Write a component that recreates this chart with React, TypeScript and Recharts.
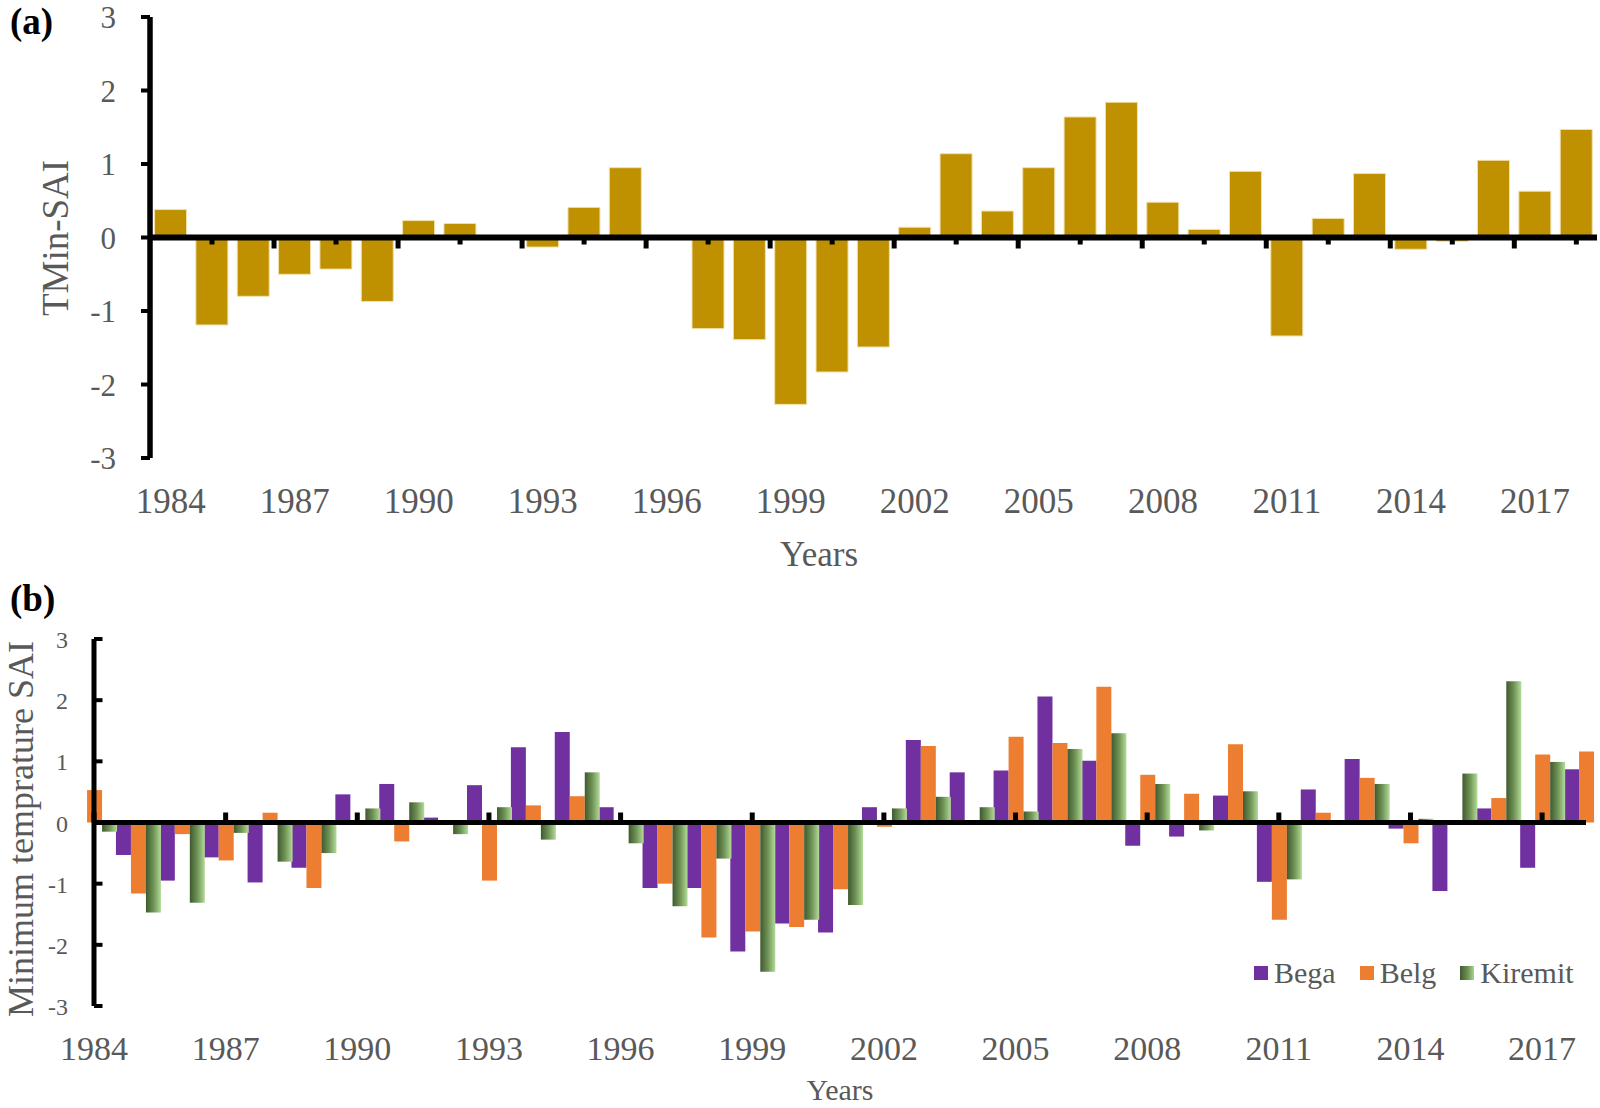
import React from "react";
import { Bar, BarChart, Legend, ReferenceLine, XAxis, YAxis } from "recharts";

const years = [
  "1984", "1985", "1986", "1987", "1988", "1989", "1990", "1991", "1992",
  "1993", "1994", "1995", "1996", "1997", "1998", "1999", "2000", "2001",
  "2002", "2003", "2004", "2005", "2006", "2007", "2008", "2009", "2010",
  "2011", "2012", "2013", "2014", "2015", "2016", "2017", "2018",
];
const yearTicks = [
  "1984", "1987", "1990", "1993", "1996", "1999",
  "2002", "2005", "2008", "2011", "2014", "2017",
];
const yTicks = [-3, -2, -1, 0, 1, 2, 3];

// (a) annual TMin-SAI
const tminSai = [
  0.38, -1.19, -0.8, -0.5, -0.43, -0.87, 0.23, 0.19, 0, -0.13, 0.41, 0.95,
  0, -1.24, -1.39, -2.27, -1.83, -1.49, 0.14, 1.14, 0.36, 0.95, 1.64, 1.84,
  0.48, 0.11, 0.9, -1.34, 0.26, 0.87, -0.16, -0.05, 1.05, 0.63, 1.47,
];

// (b) seasonal SAI
const bega = [
  null, -0.53, -0.95, -0.57, -0.98, -0.74, 0.46, 0.63, 0.08, 0.61, 1.23, 1.48,
  0.25, -1.07, -1.07, -2.11, -1.65, -1.8, 0.25, 1.35, 0.82, 0.85, 2.06, 1.01,
  -0.38, -0.23, 0.44, -0.97, 0.54, 1.04, -0.1, -1.12, 0.23, -0.74, 0.87,
];
const belg = [
  0.53, -1.16, -0.19, -0.62, 0.16, -1.07, 0, -0.31, 0, -0.95, 0.28, 0.43,
  0, -1.0, -1.88, -1.78, -1.71, -1.09, -0.07, 1.25, 0, 1.4, 1.3, 2.22,
  0.78, 0.47, 1.28, -1.59, 0.16, 0.73, -0.34, 0, 0.4, 1.11, 1.16,
];
const kiremit = [
  -0.15, -1.47, -1.31, -0.17, -0.64, -0.5, 0.23, 0.33, -0.19, 0.25, -0.28, 0.82,
  -0.34, -1.37, -0.59, -2.44, -1.59, -1.35, 0.23, 0.42, 0.25, 0.18, 1.2, 1.46,
  0.63, -0.13, 0.51, -0.93, 0, 0.63, 0.06, 0.8, 2.31, 0.99, null,
];

const dataA = years.map((year, i) => ({ year, tmin: tminSai[i] }));
const dataB = years.map((year, i) => ({
  year,
  bega: bega[i],
  belg: belg[i],
  kiremit: kiremit[i],
}));

const SERIF = '"Liberation Serif", "Times New Roman", Times, serif';
const GREY = "#595959";
const swatches: Record<string, string> = {
  bega: "#7030a0",
  belg: "#ed7d31",
  kiremit: "linear-gradient(90deg, #3f5a2e, #6f9256 55%, #a9d48c)",
};

// panel (a) layout
const A_H = 575;
const A_TOP = 17;
const A_PLOT_H = 441;
const A_LEFT = 150;
const A_PLOT_W = 1447;
const A_BAND = A_PLOT_W / years.length;
const A_ZERO = A_TOP + A_PLOT_H / 2;

// panel (b) layout: first and last year centres sit on the plot edges
const B_H = 533;
const B_TOP = 64;
const B_PLOT_H = 367;
const B_LEFT = 94;
const B_PLOT_W = 1492;
const B_BAND = B_PLOT_W / (years.length - 1);
const B_ZERO = B_TOP + B_PLOT_H / 2;

function YTickA({ x, y, payload }: any) {
  return (
    <g>
      <line x1={x - 9} x2={x} y1={y} y2={y} stroke="#000" strokeWidth={4} />
      <text x={x - 34} y={y + 11} textAnchor="end" fontFamily={SERIF} fontSize={31} fill={GREY}>
        {payload.value}
      </text>
    </g>
  );
}

function XTickA({ x, y, payload }: any) {
  const minorX = x + A_BAND;
  const majorX = x + 2.5 * A_BAND;
  return (
    <g>
      <line x1={minorX} x2={minorX} y1={A_ZERO} y2={A_ZERO + 7} stroke="#000" strokeWidth={5} />
      {majorX < A_LEFT + A_PLOT_W && (
        <line x1={majorX} x2={majorX} y1={A_ZERO} y2={A_ZERO + 11} stroke="#000" strokeWidth={5} />
      )}
      <text x={x} y={y + 55} textAnchor="middle" fontFamily={SERIF} fontSize={35} fill={GREY}>
        {payload.value}
      </text>
    </g>
  );
}

function YTickB({ x, y, payload }: any) {
  return (
    <g>
      <line x1={x} x2={x + 8.5} y1={y} y2={y} stroke="#000" strokeWidth={4} />
      <text x={x - 26} y={y + 9} textAnchor="end" fontFamily={SERIF} fontSize={24} fill={GREY}>
        {payload.value}
      </text>
    </g>
  );
}

function XTickB({ x, y, payload }: any) {
  return (
    <g>
      <line x1={x} x2={x} y1={B_ZERO} y2={B_ZERO - 10} stroke="#000" strokeWidth={5} />
      <text x={x} y={y + 54} textAnchor="middle" fontFamily={SERIF} fontSize={34} fill={GREY}>
        {payload.value}
      </text>
    </g>
  );
}

function LegendB({ payload }: any) {
  return (
    <div style={{ display: "flex", alignItems: "center", fontFamily: SERIF, fontSize: 30, lineHeight: "30px", color: GREY }}>
      {(payload || []).map((item: any) => (
        <span key={item.value} style={{ display: "flex", alignItems: "center", marginRight: 24 }}>
          <span style={{ width: 14, height: 14, marginRight: 6, background: swatches[item.dataKey] }} />
          {item.value}
        </span>
      ))}
    </div>
  );
}

export default function App() {
  return (
    <div style={{ position: "absolute", left: 0, top: 0, width: 1600, height: 1108, background: "#fff" }}>
      <BarChart
        width={1600}
        height={A_H}
        data={dataA}
        margin={{ top: A_TOP, right: 1600 - A_LEFT - A_PLOT_W, bottom: 0, left: 0 }}
        barCategoryGap="11%"
      >
        <XAxis
          dataKey="year"
          ticks={yearTicks}
          interval={0}
          height={A_H - A_TOP - A_PLOT_H}
          axisLine={false}
          tickLine={false}
          tickSize={0}
          tickMargin={0}
          tick={<XTickA />}
          label={{
            content: () => (
              <text x={819} y={566} textAnchor="middle" fontFamily={SERIF} fontSize={35} fill={GREY}>
                Years
              </text>
            ),
          }}
        />
        <YAxis
          type="number"
          domain={[-3, 3]}
          ticks={yTicks}
          interval={0}
          allowDataOverflow
          width={A_LEFT}
          axisLine={{ stroke: "#000", strokeWidth: 5.5 }}
          tickLine={false}
          tickSize={0}
          tickMargin={0}
          tick={<YTickA />}
          label={{
            content: () => (
              <g>
                <text x={10} y={34} fontFamily={SERIF} fontWeight="bold" fontSize={37} fill="#000">
                  (a)
                </text>
                <text transform="translate(68,238) rotate(-90)" textAnchor="middle" fontFamily={SERIF} fontSize={37} fill={GREY}>
                  TMin-SAI
                </text>
              </g>
            ),
          }}
        />
        <Bar dataKey="tmin" fill="#bf9000" stroke="#f1e0ac" strokeWidth={1} isAnimationActive={false} />
        <ReferenceLine y={0} stroke="#000" strokeWidth={6} />
      </BarChart>

      <div style={{ position: "absolute", left: 0, top: A_H }}>
        <BarChart
          width={1600}
          height={B_H}
          data={dataB}
          margin={{ top: B_TOP, right: 1600 - B_LEFT - B_PLOT_W, bottom: 0, left: 0 }}
          barCategoryGap={0}
          barGap={0}
        >
          <defs>
            <linearGradient id="kiremitGrad" x1="0" y1="0" x2="1" y2="0">
              <stop offset="0%" stopColor="#3f5a2e" />
              <stop offset="50%" stopColor="#6f9256" />
              <stop offset="100%" stopColor="#b3dc98" />
            </linearGradient>
          </defs>
          <XAxis
            dataKey="year"
            ticks={yearTicks}
            interval={0}
            padding={{ left: -B_BAND / 2, right: -B_BAND / 2 }}
            height={B_H - B_TOP - B_PLOT_H}
            axisLine={false}
            tickLine={false}
            tickSize={0}
            tickMargin={0}
            tick={<XTickB />}
            label={{
              content: () => (
                <text x={840} y={525} textAnchor="middle" fontFamily={SERIF} fontSize={30} fill={GREY}>
                  Years
                </text>
              ),
            }}
          />
          <YAxis
            type="number"
            domain={[-3, 3]}
            ticks={yTicks}
            interval={0}
            allowDataOverflow
            width={B_LEFT}
            axisLine={{ stroke: "#000", strokeWidth: 5 }}
            tickLine={false}
            tickSize={0}
            tickMargin={0}
            tick={<YTickB />}
            label={{
              content: () => (
                <g>
                  <text x={10} y={36} fontFamily={SERIF} fontWeight="bold" fontSize={37} fill="#000">
                    (b)
                  </text>
                  <text transform="translate(33,254) rotate(-90)" textAnchor="middle" fontFamily={SERIF} fontSize={36} fill={GREY}>
                    Minimum temprature SAI
                  </text>
                </g>
              ),
            }}
          />
          <Legend
            layout="horizontal"
            verticalAlign="middle"
            align="center"
            wrapperStyle={{ left: 1254, top: 383, width: 346, height: 30 }}
            content={<LegendB />}
          />
          <Bar dataKey="bega" name="Bega" fill="#7030a0" isAnimationActive={false} />
          <Bar dataKey="belg" name="Belg" fill="#ed7d31" isAnimationActive={false} />
          <Bar dataKey="kiremit" name="Kiremit" fill="url(#kiremitGrad)" isAnimationActive={false} />
          <ReferenceLine y={0} stroke="#000" strokeWidth={5} />
        </BarChart>
      </div>
    </div>
  );
}
